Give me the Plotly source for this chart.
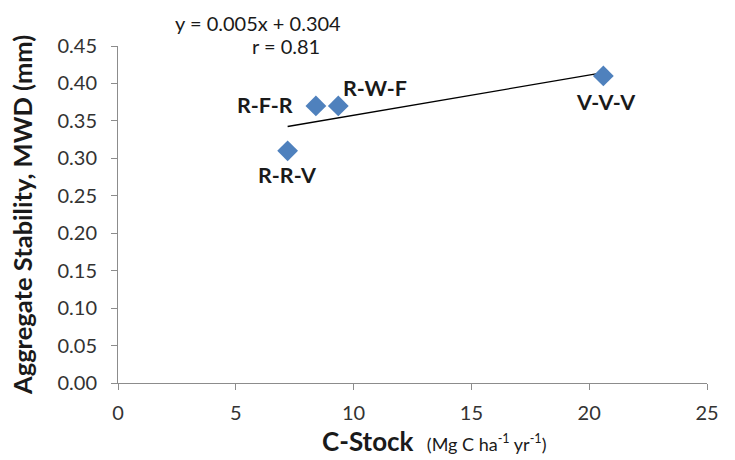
import numpy as np
import plotly.graph_objects as go

systems = ["R-R-V", "R-F-R", "R-W-F", "V-V-V"]
c_stock = [7.2, 8.4, 9.35, 20.6]
mwd = [0.31, 0.37, 0.37, 0.41]
x_ticks = [0, 5, 10, 15, 20, 25]
y_ticks = [0.00, 0.05, 0.10, 0.15, 0.20, 0.25, 0.30, 0.35, 0.40, 0.45]
equation_text = "y = 0.005x + 0.304"
r_text = "r = 0.81"

slope, intercept = np.polyfit(c_stock, mwd, 1)
x_line = [min(c_stock), max(c_stock)]
y_line = [slope * v + intercept for v in x_line]

FONT = "Lato, Open Sans, sans-serif"
OFF = 8  # page body margin
W, H = 735 - OFF, 460 - OFF
# plot area in page pixels
PX0, PX1, PY0, PY1 = 118, 707, 46, 383
L, R, T, B = PX0 - OFF, W - (PX1 - OFF), PY0 - OFF, H - (PY1 - OFF)
PW, PH = PX1 - PX0, PY1 - PY0


def px(xp):
    return (xp - PX0) / PW


def py(yp):
    return (PY1 - yp) / PH


fig = go.Figure()
fig.add_trace(go.Scatter(x=x_line, y=y_line, mode="lines",
                         line=dict(color="black", width=1.3), showlegend=False,
                         hoverinfo="skip"))
fig.add_trace(go.Scatter(x=c_stock, y=mwd, mode="markers",
                         marker=dict(symbol="diamond", size=16, color="#4F81BD"),
                         showlegend=False))

# label offsets (px): (xshift, yshift)
offsets = {"R-R-V": (0, -24), "R-F-R": (-51, 1), "R-W-F": (37, 18), "V-V-V": (3, -26)}
for name, xv, yv in zip(systems, c_stock, mwd):
    dx, dy = offsets[name]
    fig.add_annotation(x=xv, y=yv, text=f"<b>{name}</b>", showarrow=False,
                       xanchor="center", yanchor="middle",
                       xshift=dx, yshift=dy, font=dict(size=21.5, color="#1a1a1a", family=FONT))

fig.add_annotation(xref="paper", yref="paper", x=px(258), y=py(23),
                   xanchor="center", yanchor="middle",
                   text=equation_text, showarrow=False,
                   font=dict(size=20, color="#1a1a1a", family=FONT))
fig.add_annotation(xref="paper", yref="paper", x=px(286), y=py(46),
                   xanchor="center", yanchor="middle",
                   text=r_text, showarrow=False,
                   font=dict(size=20, color="#1a1a1a", family=FONT))

# axis titles
fig.add_annotation(xref="paper", yref="paper", x=px(434), y=py(441),
                   xanchor="center", yanchor="middle",
                   text="<b>C-Stock</b>  <span style='font-size:18px'>(Mg C ha<sup>-1</sup> yr<sup>-1</sup>)</span>",
                   showarrow=False, font=dict(size=26, color="#1a1a1a", family=FONT))
fig.add_annotation(xref="paper", yref="paper", x=px(22), y=py(215),
                   xanchor="center", yanchor="middle",
                   text="<b>Aggregate Stability, MWD (mm)</b>", textangle=-90,
                   showarrow=False, font=dict(size=25.5, color="#1a1a1a", family=FONT))

axis_common = dict(showgrid=False, zeroline=False, showline=True, linecolor="#8c8c8c",
                   linewidth=1, ticks="outside", ticklen=6, tickcolor="#8c8c8c",
                   tickfont=dict(size=20, color="#333333", family=FONT), automargin=False)

fig.update_xaxes(range=[0, 25], tickvals=x_ticks, ticktext=[str(v) for v in x_ticks],
                 ticklabelstandoff=6, **axis_common)
fig.update_yaxes(range=[0, 0.45], tickvals=y_ticks, ticktext=[f"{v:.2f}" for v in y_ticks],
                 ticklabelstandoff=10, **axis_common)

fig.update_layout(width=W, height=H, plot_bgcolor="white", paper_bgcolor="white",
                  margin=dict(l=L, r=R, t=T, b=B), font=dict(family=FONT))

fig.write_html("out.html")
